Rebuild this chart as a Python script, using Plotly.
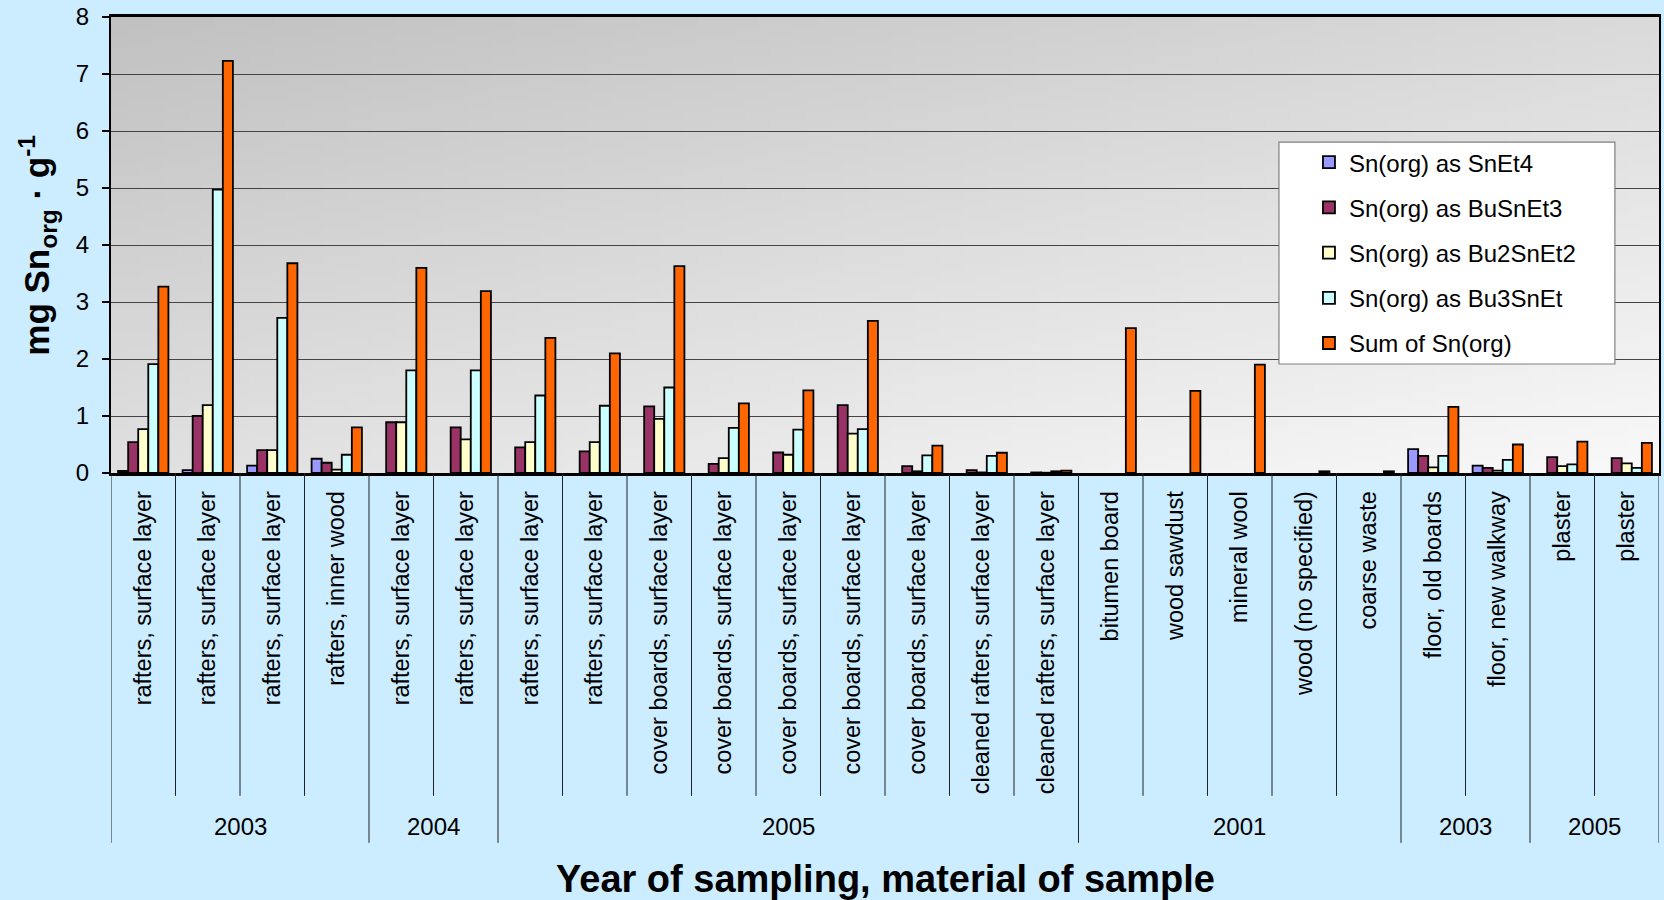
import zlib, struct, base64
import plotly.graph_objects as go

# ---------------- data ----------------
categories = (["rafters, surface layer"] * 3 + ["rafters, inner wood"] +
              ["rafters, surface layer"] * 4 +
              ["cover boards, surface layer"] * 5 +
              ["cleaned rafters, surface layer"] * 2 +
              ["bitumen board", "wood sawdust", "mineral wool", "wood (no specified)", "coarse waste",
               "floor, old boards", "floor, new walkway", "plaster", "plaster"])
years = ["2003"] * 4 + ["2004"] * 2 + ["2005"] * 9 + ["2001"] * 5 + ["2003"] * 2 + ["2005"] * 2

N = None
sn_et4 = [0.035, 0.05, 0.13, 0.25, N, N, N, N, N, N, N, N, N, N, N, N, N, N, N, N, 0.42, 0.13, N, N]
bu_sn_et3 = [0.54, 1.00, 0.40, 0.18, 0.89, 0.80, 0.45, 0.38, 1.17, 0.16, 0.36, 1.19, 0.12, 0.05, 0.01,
             N, N, N, N, N, 0.30, 0.09, 0.28, 0.26]
bu2_sn_et2 = [0.77, 1.19, 0.40, 0.06, 0.89, 0.59, 0.54, 0.54, 0.95, 0.26, 0.32, 0.69, 0.03, 0.01, 0.005,
              N, N, N, N, N, 0.10, 0.04, 0.12, 0.17]
bu3_sn_et = [1.91, 4.97, 2.72, 0.32, 1.80, 1.80, 1.36, 1.18, 1.50, 0.79, 0.76, 0.77, 0.31, 0.30, 0.03,
             N, N, N, N, N, 0.30, 0.23, 0.15, 0.09]
sum_sn = [3.27, 7.23, 3.68, 0.80, 3.60, 3.19, 2.37, 2.10, 3.63, 1.22, 1.45, 2.67, 0.48, 0.355, 0.04,
          2.54, 1.44, 1.90, 0.03, 0.03, 1.16, 0.50, 0.55, 0.53]

series_names = ["Sn(org) as SnEt4", "Sn(org) as BuSnEt3", "Sn(org) as Bu2SnEt2",
                "Sn(org) as Bu3SnEt", "Sum of Sn(org)"]
series_values = [sn_et4, bu_sn_et3, bu2_sn_et2, bu3_sn_et, sum_sn]
series_colors = ["#9999FF", "#993366", "#FFFFCC", "#CCFFFF", "#FF6600"]

FONT = "Liberation Sans, Arial, sans-serif"

# ---------------- gradient background image ----------------
def png_data_uri(w, h, fn):
    rows = []
    for y in range(h):
        row = bytearray([0])
        for x in range(w):
            v = fn(x / (w - 1), y / (h - 1))
            row += bytes([v, v, v])
        rows.append(bytes(row))
    raw = b"".join(rows)

    def chunk(t, d):
        return struct.pack(">I", len(d)) + t + d + struct.pack(">I", zlib.crc32(t + d) & 0xffffffff)

    png = (b"\x89PNG\r\n\x1a\n" +
           chunk(b"IHDR", struct.pack(">IIBBBBB", w, h, 8, 2, 0, 0, 0)) +
           chunk(b"IDAT", zlib.compress(raw)) + chunk(b"IEND", b""))
    return "data:image/png;base64," + base64.b64encode(png).decode()

def grad(u, v):
    t = 0.45 * u + 0.55 * v
    return int(round(193 + (249 - 193) * t))

bg_uri = png_data_uri(128, 64, grad)

# ---------------- figure ----------------
x_idx = list(range(len(categories)))
fig = go.Figure()
for name, vals, col in zip(series_names, series_values, series_colors):
    fig.add_trace(go.Bar(
        x=x_idx, y=vals, name=name, legendgroup=name,
        marker=dict(color=col, line=dict(color="black", width=1.8)),
    ))

shapes = []
year_bounds = [-0.5]
for i in range(1, len(years)):
    if years[i] != years[i - 1]:
        year_bounds.append(i - 0.5)
year_bounds.append(len(years) - 0.5)

for i in range(len(categories) + 1):
    b = i - 0.5
    y1 = -0.811 if b in year_bounds else -0.708
    shapes.append(dict(type="line", xref="x", yref="paper", x0=b, x1=b, y0=0, y1=y1,
                       line=dict(color="#222222", width=1)))

# legend frame (white box, grey border)
shapes.append(dict(type="rect", xref="paper", yref="paper", x0=0.7545, x1=0.9715, y0=0.239, y1=0.7255,
                   fillcolor="white", line=dict(color="#808080", width=1.2), layer="above"))

annotations = []
for k in range(len(year_bounds) - 1):
    mid = (year_bounds[k] + year_bounds[k + 1]) / 2
    i0 = int(year_bounds[k] + 0.5)
    annotations.append(dict(text=years[i0], xref="x", yref="paper", x=mid, y=-0.776,
                            showarrow=False, xanchor="center", yanchor="middle",
                            font=dict(family=FONT, size=24, color="black")))

annotations.append(dict(text="<b>Year of sampling, material of sample</b>", xref="paper", yref="paper",
                        x=0.5, y=-0.891, showarrow=False, xanchor="center", yanchor="middle",
                        font=dict(family=FONT, size=38, color="black")))
annotations.append(dict(text="<b>mg Sn<sub>org</sub> · g<sup>-1</sup></b>", xref="paper", yref="paper",
                        x=-0.048, y=0.5, showarrow=False, xanchor="center", yanchor="middle",
                        textangle=-90, font=dict(family=FONT, size=35, color="black")))

fig.update_layout(
    width=1664, height=900,
    margin=dict(l=111, r=3, t=17, b=427),
    paper_bgcolor="#CCECFF",
    plot_bgcolor="rgba(0,0,0,0)",
    barmode="group", bargap=0.22, bargroupgap=0,
    font=dict(family=FONT, color="black"),
    showlegend=True,
    legend=dict(x=0.7545, y=0.730, xanchor="left", yanchor="top",
                bgcolor="rgba(0,0,0,0)", borderwidth=0,
                font=dict(family=FONT, size=24, color="black"),
                tracegroupgap=11, indentation=30),
    images=[dict(source=bg_uri, xref="paper", yref="paper", x=0, y=1, sizex=1, sizey=1,
                 xanchor="left", yanchor="top", sizing="stretch", layer="below")],
    shapes=shapes,
    annotations=annotations,
    xaxis=dict(range=[-0.5, len(categories) - 0.5], tickvals=x_idx, ticktext=categories,
               tickangle=-90, ticks="", showgrid=False, zeroline=False,
               showline=True, linecolor="black", linewidth=2.5, mirror=True,
               tickfont=dict(family=FONT, size=23.5, color="black"), ticklabelstandoff=6),
    yaxis=dict(range=[0, 8], dtick=1, ticks="outside", ticklen=7, tickwidth=1.5, tickcolor="black",
               showgrid=True, gridcolor="#444444", gridwidth=1.2, zeroline=False,
               showline=True, linecolor="black", linewidth=2, mirror=True,
               tickfont=dict(family=FONT, size=24, color="black"), ticklabelstandoff=8),
)

fig.write_html("out.html", config={"displayModeBar": False},
               post_script="document.body.style.margin='0';document.body.style.overflow='hidden';")
